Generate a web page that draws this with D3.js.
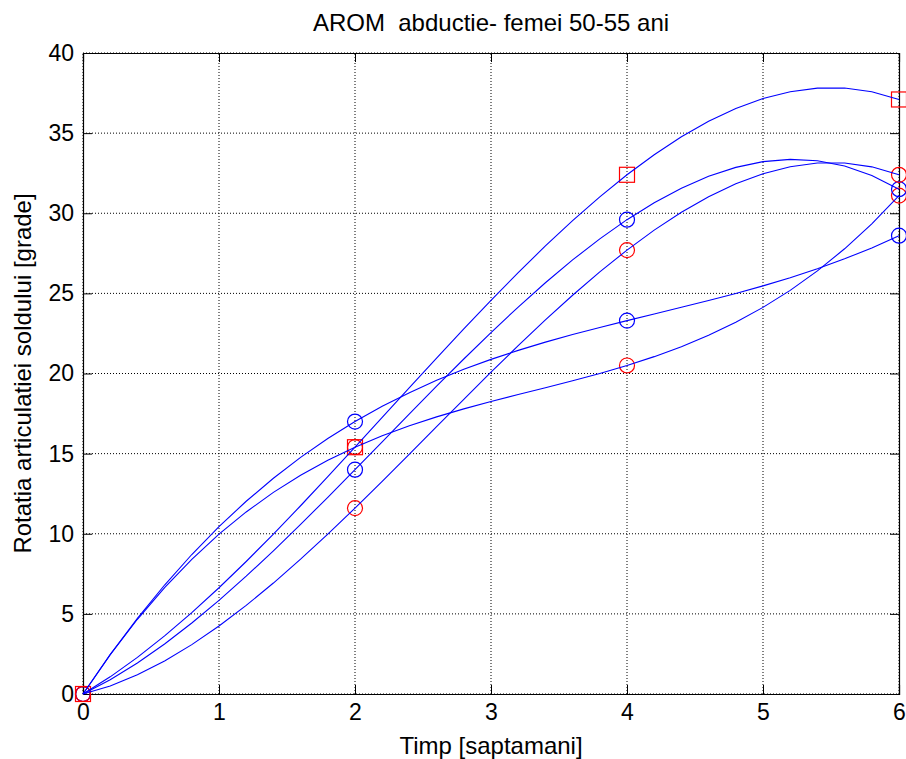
<!DOCTYPE html>
<html>
<head>
<meta charset="utf-8">
<script src="https://cdn.jsdelivr.net/npm/d3@7"></script>
<style>
  body { margin: 0; background: #fff; }
  svg { font-family: "Liberation Sans", Arial, sans-serif; }
</style>
</head>
<body>
<svg id="chart"></svg>
<script>
// weeks and measured values (degrees)
var weeks = [0, 2, 4, 6];
var squareSeries = [0, 15.4, 32.4, 37.1];
var blueSeriesA = [0, 17.0, 23.3, 28.6];
var redSeriesA = [0, 15.4, 20.5, 31.1];
var blueSeriesB = [0, 14.0, 29.6, 31.5];
var redSeriesB = [0, 11.6, 27.7, 32.4];
var xTicks = [0, 1, 2, 3, 4, 5, 6];
var yTicks = [0, 5, 10, 15, 20, 25, 30, 35, 40];

var width = 906, height = 759;
var margin = {left: 83, right: 7, top: 53, bottom: 65};

var svg = d3.select("#chart").attr("width", width).attr("height", height);

var x = d3.scaleLinear().domain([0, 6]).range([margin.left, width - margin.right]);
var y = d3.scaleLinear().domain([0, 40]).range([height - margin.bottom, margin.top]);

var series = [
    {vals: blueSeriesA, color: "#0000ff", marker: "circle"},
    {vals: redSeriesA, color: "#ff0000", marker: "circle"},
    {vals: blueSeriesB, color: "#0000ff", marker: "circle"},
    {vals: redSeriesB, color: "#ff0000", marker: "circle"},
    {vals: squareSeries, color: "#ff0000", marker: "square"}
];

// grid
var grid = svg.append("g").attr("class", "grid");
grid.selectAll("line.gx").data(xTicks).enter().append("line")
    .attr("x1", function (d) { return x(d); }).attr("x2", function (d) { return x(d); })
    .attr("y1", y(0)).attr("y2", y(40))
    .attr("stroke", "#000").attr("stroke-dasharray", "1,2").attr("stroke-width", 1);
grid.selectAll("line.gy").data(yTicks).enter().append("line")
    .attr("y1", function (d) { return y(d); }).attr("y2", function (d) { return y(d); })
    .attr("x1", x(0)).attr("x2", x(6))
    .attr("stroke", "#000").attr("stroke-dasharray", "1,2").attr("stroke-width", 1);

// axes with inward ticks on all sides
var tk = 9;
svg.append("g").attr("transform", "translate(0," + y(0) + ")")
    .call(d3.axisBottom(x).tickValues(xTicks).tickSize(-tk).tickPadding(10).tickFormat(d3.format("d")));
svg.append("g").attr("transform", "translate(0," + y(40) + ")")
    .call(d3.axisTop(x).tickValues(xTicks).tickSize(-tk).tickFormat(""));
svg.append("g").attr("transform", "translate(" + x(0) + ",0)")
    .call(d3.axisLeft(y).tickValues(yTicks).tickSize(-tk).tickPadding(9).tickFormat(d3.format("d")));
svg.append("g").attr("transform", "translate(" + x(6) + ",0)")
    .call(d3.axisRight(y).tickValues(yTicks).tickSize(-tk).tickFormat(""));
svg.selectAll(".domain").attr("stroke", "#000").attr("stroke-width", 1.2);
svg.selectAll(".tick line").attr("stroke", "#000");
svg.selectAll(".tick text").attr("font-size", "23px").attr("fill", "#000")
    .attr("font-family", "Liberation Sans, Arial, sans-serif");

// markers
var mk = svg.append("g").attr("class", "markers");
series.forEach(function (s) {
    var pts = weeks.map(function (w, i) { return [w, s.vals[i]]; });
    if (s.marker == "circle") {
        mk.selectAll(null).data(pts).enter().append("circle")
            .attr("cx", function (d) { return x(d[0]); })
            .attr("cy", function (d) { return y(d[1]); })
            .attr("r", 7.5)
            .attr("fill", "none").attr("stroke", s.color).attr("stroke-width", 1.2);
    } else {
        mk.selectAll(null).data(pts).enter().append("rect")
            .attr("x", function (d) { return x(d[0]) - 7.5; })
            .attr("y", function (d) { return y(d[1]) - 7.5; })
            .attr("width", 15).attr("height", 15)
            .attr("fill", "none").attr("stroke", s.color).attr("stroke-width", 1.2);
    }
});

// cubic interpolating curve (like matlab spline on 4 points), drawn as polyline
function polyCurve(context) {
    var px = [], py = [];
    return {
        areaStart: function () {}, areaEnd: function () {},
        lineStart: function () { px = []; py = []; },
        point: function (a, b) { px.push(+a); py.push(+b); },
        lineEnd: function () {
            var n = px.length, steps = 30;
            for (var k = 0; k <= steps; k++) {
                var t = px[0] + (px[n - 1] - px[0]) * k / steps;
                var v = 0;
                for (var i = 0; i < n; i++) {
                    var L = 1;
                    for (var j = 0; j < n; j++) if (j != i) L *= (t - px[j]) / (px[i] - px[j]);
                    v += L * py[i];
                }
                if (k == 0) context.moveTo(t, v); else context.lineTo(t, v);
            }
        }
    };
}

var line = d3.line()
    .x(function (d) { return x(d[0]); })
    .y(function (d) { return y(d[1]); })
    .curve(polyCurve);

svg.append("g").selectAll("path").data(series).enter().append("path")
    .attr("d", function (s) { return line(weeks.map(function (w, i) { return [w, s.vals[i]]; })); })
    .attr("fill", "none").attr("stroke", "#0000ff").attr("stroke-width", 1.1);

// labels
svg.append("text").attr("x", (x(0) + x(6)) / 2).attr("y", 31)
    .attr("text-anchor", "middle").attr("font-size", "24px")
    .text("AROM  abductie- femei 50-55 ani").attr("xml:space", "preserve");
svg.append("text").attr("x", (x(0) + x(6)) / 2).attr("y", 754)
    .attr("text-anchor", "middle").attr("font-size", "24px")
    .text("Timp [saptamani]");
svg.append("text").attr("transform", "translate(31," + (y(0) + y(40)) / 2 + ") rotate(-90)")
    .attr("text-anchor", "middle").attr("font-size", "24px")
    .text("Rotatia articulatiei soldului [grade]");
</script>
</body>
</html>
